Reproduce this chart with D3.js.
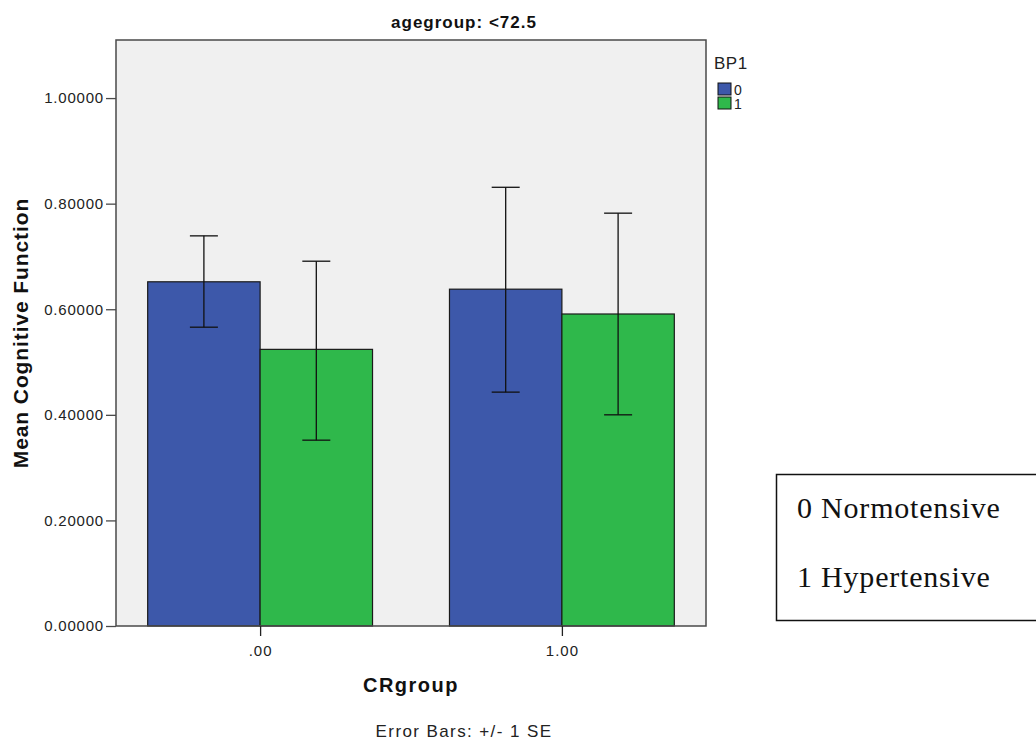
<!DOCTYPE html>
<html>
<head>
<meta charset="utf-8">
<script src="https://cdn.jsdelivr.net/npm/d3@7"></script>
<style>
  body { margin: 0; background: #fff; }
  svg { display: block; font-family: "Liberation Sans", Arial, sans-serif; }
</style>
</head>
<body>
<div id="chart"></div>
<script>
// data
var categories = [".00", "1.00"];
var groups = ["0", "1"];
var means = [[0.652, 0.524], [0.638, 0.591]];
var errLow = [[0.566, 0.352], [0.443, 0.400]];
var errHigh = [[0.739, 0.691], [0.831, 0.782]];
var yTicks = [0, 0.2, 0.4, 0.6, 0.8, 1.0];
var colors = ["#3d58aa", "#2fb84b"];
var noteLines = ["0 Normotensive", "1 Hypertensive"];

var width = 1036, height = 742;
var plot = { left: 116, right: 706, top: 40, bottom: 626 };

var svg = d3.select("#chart").append("svg")
    .attr("width", width)
    .attr("height", height);

// scales
var y = d3.scaleLinear()
    .domain([0, 1.11])
    .range([plot.bottom, plot.top]);

var x = d3.scaleBand()
    .domain(categories)
    .range([plot.left, plot.right])
    .paddingInner(0.255)
    .paddingOuter(0.105);

var xg = d3.scaleBand()
    .domain(groups)
    .range([0, x.bandwidth()]);

// plot background
svg.append("rect")
    .attr("x", plot.left)
    .attr("y", plot.top)
    .attr("width", plot.right - plot.left)
    .attr("height", plot.bottom - plot.top)
    .attr("fill", "#f0f0f0");

// bars
var rows = [];
categories.forEach(function(c, i) {
    groups.forEach(function(g, j) {
        rows.push({ cat: c, grp: g, j: j, mean: means[i][j], lo: errLow[i][j], hi: errHigh[i][j] });
    });
});

svg.selectAll("rect.bar")
    .data(rows)
    .enter()
    .append("rect")
    .attr("class", "bar")
    .attr("x", function(d) { return x(d.cat) + xg(d.grp); })
    .attr("y", function(d) { return y(d.mean); })
    .attr("width", xg.bandwidth())
    .attr("height", function(d) { return y(0) - y(d.mean); })
    .attr("fill", function(d) { return colors[d.j]; })
    .attr("stroke", "#1a1a1a")
    .attr("stroke-width", 1.2);

// error bars
var capW = 14;
var eb = svg.selectAll("g.err")
    .data(rows)
    .enter()
    .append("g")
    .attr("class", "err")
    .attr("stroke", "#111")
    .attr("stroke-width", 1.3);

eb.append("line")
    .attr("x1", function(d) { return x(d.cat) + xg(d.grp) + xg.bandwidth() / 2; })
    .attr("x2", function(d) { return x(d.cat) + xg(d.grp) + xg.bandwidth() / 2; })
    .attr("y1", function(d) { return y(d.lo); })
    .attr("y2", function(d) { return y(d.hi); });

["lo", "hi"].forEach(function(k) {
    eb.append("line")
        .attr("x1", function(d) { return x(d.cat) + xg(d.grp) + xg.bandwidth() / 2 - capW; })
        .attr("x2", function(d) { return x(d.cat) + xg(d.grp) + xg.bandwidth() / 2 + capW; })
        .attr("y1", function(d) { return y(d[k]); })
        .attr("y2", function(d) { return y(d[k]); });
});

// frame
svg.append("rect")
    .attr("x", plot.left)
    .attr("y", plot.top)
    .attr("width", plot.right - plot.left)
    .attr("height", plot.bottom - plot.top)
    .attr("fill", "none")
    .attr("stroke", "#4a4a4a")
    .attr("stroke-width", 1.5);

// y axis
var yAxis = svg.append("g")
    .attr("transform", "translate(" + plot.left + ",0)")
    .call(d3.axisLeft(y).tickValues(yTicks).tickFormat(d3.format(".5f")).tickSize(10).tickPadding(2));
yAxis.select(".domain").remove();
yAxis.selectAll("line").attr("stroke", "#4a4a4a").attr("stroke-width", 1.3);
yAxis.selectAll("text").attr("font-size", 15).attr("letter-spacing", 0.8).attr("fill", "#222")
    .attr("font-family", "Liberation Sans, Arial, sans-serif");

// x axis
var xAxis = svg.append("g")
    .attr("transform", "translate(0," + plot.bottom + ")")
    .call(d3.axisBottom(d3.scalePoint().domain(categories)
        .range([x(categories[0]) + x.bandwidth() / 2, x(categories[1]) + x.bandwidth() / 2]))
        .tickSize(10).tickPadding(9));
xAxis.select(".domain").remove();
xAxis.selectAll("line").attr("stroke", "#222").attr("stroke-width", 1.3);
xAxis.selectAll("text").attr("font-size", 15).attr("letter-spacing", 1).attr("fill", "#222")
    .attr("font-family", "Liberation Sans, Arial, sans-serif");

// titles
var cx = (plot.left + plot.right) / 2;
svg.append("text")
    .attr("x", 464).attr("y", 28)
    .attr("text-anchor", "middle")
    .attr("font-size", 17).attr("letter-spacing", 1)
    .attr("font-weight", "bold").attr("fill", "#111")
    .text("agegroup: <72.5");

svg.append("text")
    .attr("x", cx).attr("y", 692)
    .attr("text-anchor", "middle")
    .attr("font-size", 20).attr("letter-spacing", 1.5)
    .attr("font-weight", "bold").attr("fill", "#111")
    .text("CRgroup");

svg.append("text")
    .attr("x", 464).attr("y", 737)
    .attr("text-anchor", "middle")
    .attr("font-size", 17).attr("letter-spacing", 1.4).attr("fill", "#222")
    .text("Error Bars: +/- 1 SE");

svg.append("text")
    .attr("transform", "translate(28," + ((plot.top + plot.bottom) / 2) + ") rotate(-90)")
    .attr("text-anchor", "middle")
    .attr("font-size", 21).attr("letter-spacing", 0.9)
    .attr("font-weight", "bold").attr("fill", "#111")
    .text("Mean Cognitive Function");

// legend
var leg = svg.append("g").attr("transform", "translate(714,0)");
leg.append("text")
    .attr("x", 0).attr("y", 69)
    .attr("font-size", 17).attr("letter-spacing", 0.5).attr("fill", "#222")
    .text("BP1");
leg.selectAll("rect")
    .data(groups)
    .enter()
    .append("rect")
    .attr("x", 4)
    .attr("y", function(d, i) { return 83 + i * 14; })
    .attr("width", 13).attr("height", 12)
    .attr("fill", function(d, i) { return colors[i]; })
    .attr("stroke", "#111").attr("stroke-width", 1);
leg.selectAll("text.lab")
    .data(groups)
    .enter()
    .append("text")
    .attr("class", "lab")
    .attr("x", 20)
    .attr("y", function(d, i) { return 95 + i * 14; })
    .attr("font-size", 14).attr("fill", "#222")
    .text(function(d) { return d; });

// note box
svg.append("rect")
    .attr("x", 776.5).attr("y", 474.5)
    .attr("width", 280).attr("height", 146)
    .attr("fill", "#fff")
    .attr("stroke", "#111").attr("stroke-width", 1.5);
svg.selectAll("text.note")
    .data(noteLines)
    .enter()
    .append("text")
    .attr("class", "note")
    .attr("x", 797)
    .attr("y", function(d, i) { return 518 + i * 69; })
    .attr("font-family", "Liberation Serif, 'Times New Roman', serif")
    .attr("font-size", 30).attr("letter-spacing", 0.8).attr("fill", "#111")
    .text(function(d) { return d; });
</script>
</body>
</html>
